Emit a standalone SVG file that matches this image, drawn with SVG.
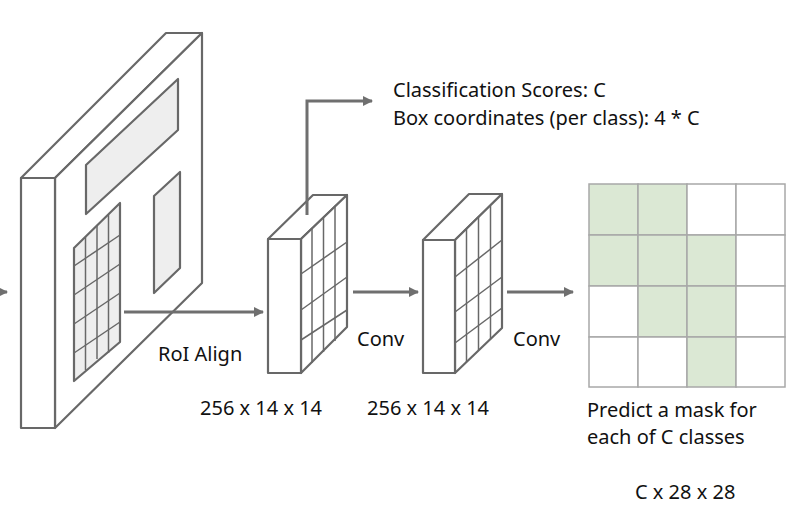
<svg xmlns="http://www.w3.org/2000/svg" width="800" height="529" viewBox="0 0 800 529">
<defs>
<marker id="ah" viewBox="0 0 10 10" refX="9" refY="5" markerWidth="3.4" markerHeight="3.4" markerUnits="strokeWidth" orient="auto">
<path d="M0,0 L10,5 L0,10 Z" fill="#6f6f6f"/>
</marker>
<style>
.edge{fill:#ffffff;stroke:#686868;stroke-width:2.2;stroke-linejoin:round}
.patch{fill:#eeeeee;stroke:#686868;stroke-width:2.2;stroke-linejoin:round}
.gl{fill:none;stroke:#686868;stroke-width:1.5}
.conn{fill:none;stroke:#6f6f6f;stroke-width:3;marker-end:url(#ah)}
.mask{stroke:#a8a8a8;stroke-width:1.5}
.g{fill:#dbe8d4}
.w{fill:#ffffff}
text{font-family:"Noto Sans","Open Sans",sans-serif;font-size:20px;fill:#111111}
</style>
</defs>
<rect width="800" height="529" fill="#ffffff"/>

<g id="feature-map">
<polygon class="edge" points="21,178 166,33 202,33 55,178"/>
<polygon class="edge" points="55,178 202,33 202,283 55,428"/>
<rect class="edge" x="21" y="178" width="34" height="250"/>
<polygon class="patch" points="86,165 178,79 178,130 86,214"/>
<polygon class="patch" points="154,196 180,172 180,268 154,293"/>
<polygon class="patch" points="74,248 120,203 120,342 74,381"/>
<g class="gl">
<line x1="85.5" y1="237" x2="85.5" y2="370"/>
<line x1="97" y1="226" x2="97" y2="359"/>
<line x1="108.5" y1="215" x2="108.5" y2="353"/>
<line x1="74" y1="266" x2="120" y2="235"/>
<line x1="74" y1="295" x2="120" y2="264"/>
<line x1="74" y1="324" x2="120" y2="293"/>
<line x1="74" y1="353" x2="120" y2="322"/>
</g>
</g>

<g id="roi-features">
<polygon class="edge" points="268,239 313,195 347,195 301,239"/>
<polygon class="edge" points="301,239 347,195 347,327 301,373"/>
<rect class="edge" x="268" y="239" width="33" height="134"/>
<g class="gl">
<line x1="312" y1="229" x2="312" y2="363"/>
<line x1="323.5" y1="218" x2="323.5" y2="352"/>
<line x1="335" y1="207" x2="335" y2="341"/>
<line x1="301" y1="274" x2="347" y2="242"/>
<line x1="301" y1="310" x2="347" y2="277"/>
<line x1="301" y1="340" x2="347" y2="310"/>
</g>
</g>

<g id="conv-features">
<polygon class="edge" points="423,240 469,194 502,194 455,240"/>
<polygon class="edge" points="455,240 502,194 502,328 455,373"/>
<rect class="edge" x="423" y="240" width="32" height="133"/>
<g class="gl">
<line x1="466.5" y1="229" x2="466.5" y2="362"/>
<line x1="478.5" y1="217" x2="478.5" y2="350"/>
<line x1="490.5" y1="206" x2="490.5" y2="339"/>
<line x1="455" y1="277" x2="502" y2="240"/>
<line x1="455" y1="312" x2="502" y2="277"/>
<line x1="455" y1="343" x2="502" y2="308"/>
</g>
</g>

<g id="mask">
<g class="mask">
<rect class="g" x="589" y="184" width="49" height="51"/>
<rect class="g" x="638" y="184" width="49" height="51"/>
<rect class="w" x="687" y="184" width="49" height="51"/>
<rect class="w" x="736" y="184" width="49" height="51"/>
<rect class="g" x="589" y="235" width="49" height="51"/>
<rect class="g" x="638" y="235" width="49" height="51"/>
<rect class="g" x="687" y="235" width="49" height="51"/>
<rect class="w" x="736" y="235" width="49" height="51"/>
<rect class="w" x="589" y="286" width="49" height="51"/>
<rect class="g" x="638" y="286" width="49" height="51"/>
<rect class="g" x="687" y="286" width="49" height="51"/>
<rect class="w" x="736" y="286" width="49" height="51"/>
<rect class="w" x="589" y="337" width="49" height="50"/>
<rect class="w" x="638" y="337" width="49" height="50"/>
<rect class="g" x="687" y="337" width="49" height="50"/>
<rect class="w" x="736" y="337" width="49" height="50"/>
</g>
</g>

<g id="connectors">
<line class="conn" x1="-30" y1="292" x2="7" y2="292"/>
<line class="conn" x1="124" y1="312" x2="263" y2="312"/>
<polyline class="conn" points="307,215 307,101 372,101"/>
<line class="conn" x1="353" y1="292" x2="418" y2="292"/>
<line class="conn" x1="507" y1="292" x2="573" y2="292"/>
</g>

<g id="labels">
<text x="393" y="97">Classification Scores: C</text>
<text x="393" y="125">Box coordinates (per class): 4 * C</text>
<text x="158" y="361">RoI Align</text>
<text x="357" y="346">Conv</text>
<text x="513" y="346">Conv</text>
<text x="200" y="415">256 x 14 x 14</text>
<text x="367" y="415">256 x 14 x 14</text>
<text x="587" y="417">Predict a mask for</text>
<text x="587" y="444">each of C classes</text>
<text x="635" y="499">C x 28 x 28</text>
</g>
</svg>
